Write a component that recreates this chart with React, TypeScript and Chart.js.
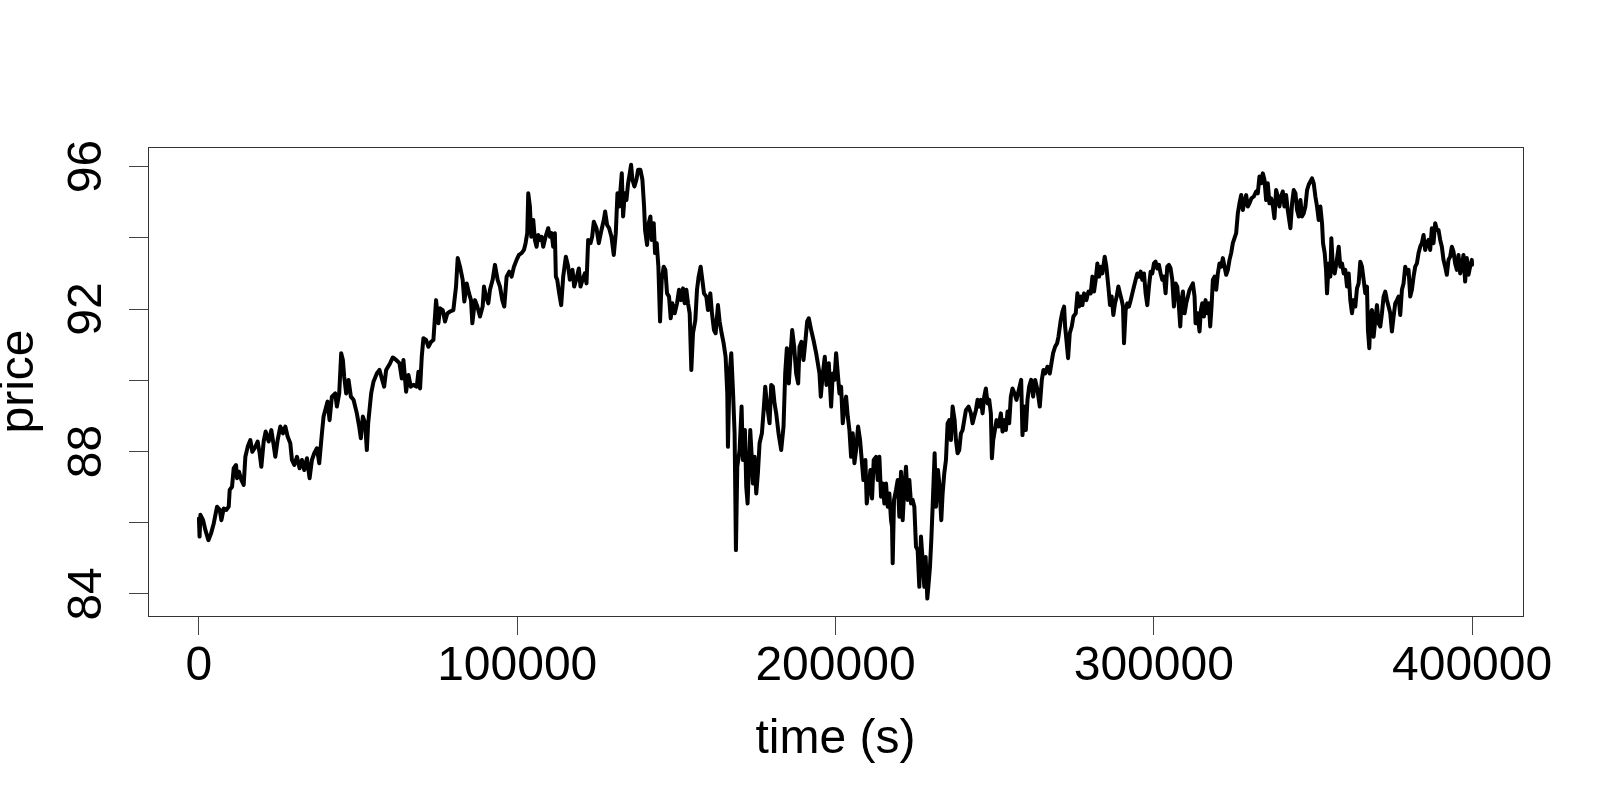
import { useEffect, useRef } from "react";
import { Chart, registerables } from "chart.js";

Chart.register(...registerables);

// time (s)
const times: number[] = [
  0, 200, 470, 1307, 2039, 2980, 3817, 4653, 5699, 6536,
  7058, 7790, 8627, 9359, 9672, 10404, 10927, 11659, 11973, 12600,
  13332, 14064, 14587, 15319, 16156, 16783, 17724, 18456, 19084, 19606,
  20338, 20966, 21907, 22743, 23475, 23998, 24730, 25567, 26403, 27135,
  27867, 28704, 29227, 29958, 30795, 31631, 32363, 33095, 33932, 34768,
  35500, 36232, 37069, 37801, 38637, 39160, 39997, 40415, 41042, 41774,
  42820, 43343, 44075, 44702, 45225, 45643, 46271, 47003, 47735, 48571,
  49617, 50349, 50872, 51499, 52231, 52754, 53172, 53800,
  54113, 54845, 55891, 56727, 57459, 58191, 58819, 60074, 60910, 61956,
  63002, 63733, 64256, 65093, 65825, 66557, 67393, 68439, 68962, 69485,
  70007, 70530, 71367, 72099, 72935, 73667, 74504, 75236, 75759, 76595,
  77327, 78059, 78896, 79942, 80778, 81301, 82033, 82869, 83392, 84124,
  84856, 85483, 85902, 86738, 87470, 88307, 89143, 89561, 90189, 90921,
  91444, 92280, 93012, 93848, 94581, 95313, 95940, 96672, 97509, 98240,
  98972, 99809, 100541, 101377, 102109, 102632, 103154, 103468, 103991, 104409,
  105036, 105559, 106082, 106605, 107128, 107651, 108173, 108905, 109742, 110265,
  110787, 111310, 111833, 112147, 112565, 113193, 113820, 114448, 115284, 116016,
  116539, 117375, 117898, 118630, 119363, 119885, 120513, 121245, 121768, 122291,
  123023, 123545, 124068, 124905, 125637,
  126474, 127205, 127624, 128251, 128879, 129611, 130343, 130970, 131493, 132016,
  132434, 132852, 133271, 133793, 134316, 134839, 135362, 135780, 136199, 136826,
  137453, 137976, 138708, 139336, 139858, 140172, 140800, 141322, 141845, 142263,
  142890, 143309, 143831, 144354, 144877, 145400, 146027, 146550, 147073, 147701,
  148223, 148746, 149478, 150210, 150837, 151465, 152092, 152615, 153138, 153661,
  154184, 154706, 155229, 155961, 156484, 157007, 157634, 158157, 158680, 159412,
  159935, 160667, 161190, 161817, 162340, 163072, 163595, 164222, 164850, 165477,
  166000, 166209, 166732, 167255, 167778, 168300, 168719, 169137, 169869, 170496,
  170915, 171542, 171961, 172379, 172797, 173216, 173739, 174052, 174575, 175098,
  175621, 176143, 176875, 177503, 177921, 178444, 179280, 179803, 180326, 180849,
  181372, 182103, 182940, 183672, 184195, 184718, 185345, 185973, 186391, 187018,
  187646, 188273, 188691, 189319, 189946, 190574, 191097, 191619, 192351, 193083,
  193920, 194443, 194966, 195384, 196011, 196639, 197162, 197894,
  198625, 199148, 199670, 200193, 200716, 201239, 201762, 202285, 202807, 203330,
  203853, 204376, 204899, 205421, 205944, 206467, 207095, 207722, 208245, 208767,
  209395, 209813, 210441, 210963, 211486, 212009, 212741, 213264, 213787, 214310,
  214832, 215355, 215878, 216401, 216924, 217446, 217760, 217969, 218388, 219015,
  219538, 220061, 220584, 221106, 221629, 222152, 222675, 223198, 223721, 224243,
  224766, 225289, 225812, 226335, 226857, 227380, 227903, 228321, 228844, 229263,
  229681, 230099, 230518, 231145, 231564, 232191, 232609, 233237, 233655, 234178,
  234701, 235224, 235746, 236269, 236792, 237420, 237838, 238361, 238883, 239406,
  239929, 240452, 240975, 241811, 242543, 243066, 243589, 244112, 244634, 245157,
  245680, 246203, 246725, 247248, 247771, 248294, 248817, 249131, 249548, 250072,
  250594, 251222, 251954, 252477, 253104, 253522, 254045, 254568, 255091, 255614,
  256241, 256868, 257705, 258332, 258751, 259273, 259796, 260319, 260842, 261469,
  262096, 262724, 263456, 264188, 264815, 265338, 265861, 266593, 267325, 267848,
  268370, 268998, 269625, 270044,
  270775, 271298, 271821, 272135, 272553, 273076, 273599, 274226, 274749, 275481,
  276004, 276527, 277050, 277572, 278095, 278827, 279455, 280187, 280710, 281232,
  281755, 282278, 282801, 283324, 283846, 284578, 285101, 285728, 286251, 286774,
  287297, 287820, 288342, 288865, 289388, 289911, 290329, 290643, 291166, 291688,
  292211, 292734, 293257, 293780, 294302, 294825, 295348, 295871, 296394, 296916,
  297439, 297962, 298485, 299008, 299530, 300053, 300576, 301099, 301622, 302144,
  302667, 303190, 303713, 304236, 304759, 305281, 305804, 306327, 306850, 307373,
  307895, 308314, 308732, 309150, 309673, 310196, 310719, 311242, 311765, 312288,
  312810, 313124, 313752, 314379, 314798, 315216, 315739, 316262, 316785, 317308,
  317726, 318144, 318562, 319085, 319608, 320131, 320654, 321177, 321699, 322222,
  322745, 323268, 323791, 324313, 324836, 325359, 325882, 326405, 326928, 327450,
  327973, 328496, 329019, 329542, 330064, 330692, 331424, 332156, 332679, 333202,
  333724, 334247, 334770, 335293, 335816, 336339, 336861, 337384, 337907, 338430,
  338953, 339476, 339998, 340521, 341044, 341567, 342090,
  342927, 343450, 343972, 344495, 345018, 345541, 346064, 346586, 347109, 347632,
  348155, 348678, 349201, 349723, 350246, 350769, 351292, 351815, 352337, 352860,
  353174, 353697, 354115, 354429, 354952, 355474, 355788, 356311, 356834, 357357,
  358089, 358612, 359134, 359657, 360180, 360703, 361226, 361748, 362271, 362794,
  363317, 363840, 364363, 364885, 365408, 365931, 366454, 366977, 367290, 367709,
  368127, 368545, 369068, 369591, 370114, 370637, 371160, 371682, 372205, 372728,
  373251, 373774, 374297, 374819, 375342, 375865, 376388, 376911, 377433, 377956,
  378479, 379002, 379525, 380048, 380570, 381093, 381616, 382139, 382662, 383185,
  383707, 384230, 384753, 385276, 385799, 386322, 386844, 387367, 387890, 388413,
  388936, 389459, 389981, 390504, 391027, 391550, 392073, 392596, 393118, 393641,
  394164, 394687, 395210, 395733, 396255, 396778, 397301, 397824, 398347, 398870,
  399392, 399915, 400000,
];

// price
const prices: number[] = [
  86.12, 85.61, 86.22, 86.07, 85.79, 85.51, 85.70, 85.98, 86.45, 86.36,
  86.07, 86.40, 86.36, 86.45, 86.92, 87.01, 87.53, 87.62, 87.25, 87.43,
  87.20, 87.06, 87.85, 88.13, 88.32, 87.99, 88.13, 88.28, 87.95, 87.57,
  88.28, 88.56, 88.28, 88.60, 88.18, 87.85, 88.32, 88.70, 88.51, 88.70,
  88.42, 88.23, 87.76, 87.62, 87.85, 87.53, 87.76, 87.48, 87.81, 87.25,
  87.76, 87.95, 88.09, 87.67, 88.51, 88.98, 89.26, 89.40, 88.88, 89.54,
  89.63, 89.26, 89.63, 90.76, 90.57, 90.10, 89.63, 90.01, 89.54, 89.45,
  89.07, 88.70, 88.37, 88.98, 88.79, 88.04, 88.79, 89.35,
  89.63, 89.96, 90.19, 90.29, 90.05, 89.82, 90.29, 90.48, 90.64, 90.57,
  90.48, 90.05, 90.57, 89.68, 90.15, 89.82, 89.87, 89.82, 90.24, 89.77,
  90.66, 91.18, 91.13, 90.94, 91.08, 91.13, 92.25, 91.60, 92.02, 91.97,
  91.65, 91.88, 91.93, 91.97, 92.63, 93.43, 93.19, 92.82, 92.21, 92.72,
  92.44, 92.25, 91.60, 92.25, 92.07, 91.79, 92.07, 92.63, 92.35, 92.16,
  92.54, 92.82, 93.24, 92.82, 92.63, 92.25, 92.07, 92.91, 93.05, 92.91,
  93.19, 93.38, 93.52, 93.57, 93.66, 93.85, 94.13, 95.25, 94.88, 94.03,
  94.50, 93.94, 93.75, 94.08, 93.94, 94.03, 93.75, 94.03, 94.27, 94.03,
  94.13, 93.75, 94.13, 92.91, 92.82, 92.44, 92.11, 92.91, 93.47, 93.19,
  92.82, 93.10, 92.63, 92.86, 93.14, 92.63, 92.82, 93.00, 92.72, 93.94,
  93.85, 94.03, 94.45, 94.27, 93.85,
  94.22, 94.50, 94.74, 94.36, 94.27, 94.03, 93.52, 94.13, 95.25, 94.88,
  95.34, 95.81, 94.60, 95.25, 95.06, 95.53, 95.81, 96.05, 95.63, 95.44,
  95.63, 95.91, 95.91, 95.63, 94.88, 94.22, 93.80, 94.41, 94.60, 93.94,
  94.41, 93.57, 93.85, 93.19, 91.65, 92.82, 93.19, 93.10, 92.44, 92.35,
  91.74, 92.16, 91.88, 92.16, 92.54, 92.25, 92.58, 92.16, 92.54, 92.16,
  91.88, 90.29, 91.32, 91.69, 92.54, 92.91, 93.19, 92.82, 92.44, 92.35,
  91.97, 92.44, 91.88, 91.41, 91.32, 92.11, 91.65, 91.32, 91.04, 90.66,
  89.63, 88.13, 90.19, 90.76, 89.73, 88.51, 85.23, 87.57, 88.04, 89.26,
  87.76, 88.60, 87.01, 86.54, 87.57, 88.60, 87.76, 87.10, 87.85, 86.82,
  87.39, 88.23, 88.51, 89.26, 89.82, 89.35, 88.79, 89.87, 89.82, 89.35,
  89.07, 88.51, 88.04, 88.70, 90.19, 90.90, 89.91, 90.85, 91.41, 90.94,
  90.19, 89.91, 90.94, 91.08, 90.57, 91.13, 91.65, 91.74, 91.41, 91.13,
  90.76, 90.48, 90.19, 89.54, 90.19, 90.66, 89.87, 90.48,
  89.26, 90.19, 90.01, 90.76, 90.19, 89.63, 89.82, 88.79, 89.26, 89.54,
  88.98, 88.60, 87.85, 88.51, 87.67, 88.04, 88.70, 88.32, 87.76, 87.20,
  87.76, 86.54, 87.01, 87.48, 86.68, 87.76, 87.85, 87.20, 87.85, 86.73,
  87.10, 86.54, 87.10, 86.45, 86.82, 86.07, 85.89, 84.86, 86.64, 86.92,
  87.20, 86.17, 87.43, 86.07, 87.01, 87.57, 86.64, 87.20, 86.54, 86.64,
  86.45, 85.33, 85.23, 84.20, 85.61, 84.95, 84.20, 85.04, 83.87, 84.30,
  84.76, 85.51, 86.45, 87.95, 86.45, 87.48, 87.10, 86.07, 86.82, 87.39,
  87.76, 88.79, 88.88, 88.32, 89.26, 88.88, 88.32, 87.95, 88.04, 88.51,
  88.60, 88.88, 89.16, 89.26, 89.07, 88.79, 88.98, 89.16, 89.45, 89.26,
  89.45, 89.07, 89.54, 89.77, 89.35, 89.45, 89.07, 87.81, 88.32, 88.60,
  88.88, 88.70, 89.07, 88.56, 88.88, 88.60, 89.12, 88.79, 89.54, 89.77,
  89.63, 89.45, 89.77, 90.01, 88.46, 89.26, 88.60, 89.45, 89.82, 90.01,
  89.54, 90.01, 89.73, 89.26, 90.01, 90.29, 90.19, 90.38, 90.19, 90.48,
  90.76, 90.94, 91.04, 91.22,
  91.69, 91.93, 92.07, 91.51, 91.13, 90.62, 91.32, 91.51, 91.79, 91.88,
  92.44, 92.07, 92.35, 92.11, 92.44, 92.25, 92.49, 92.44, 92.91, 92.49,
  92.82, 93.28, 92.91, 93.19, 93.00, 93.47, 93.19, 92.63, 92.11, 92.35,
  91.83, 92.16, 92.35, 92.63, 92.44, 92.25, 92.07, 91.04, 91.97, 92.16,
  92.07, 92.25, 92.44, 92.63, 92.82, 93.00, 92.91, 93.05, 92.82, 93.00,
  92.44, 92.11, 92.63, 93.05, 93.00, 93.28, 93.33, 93.14, 93.24, 93.00,
  92.82, 92.91, 92.44, 93.19, 93.24, 93.14, 92.82, 92.07, 92.72, 92.63,
  92.07, 91.51, 92.25, 92.49, 91.88, 92.16, 92.35, 92.54, 92.63, 92.72,
  92.35, 91.60, 91.88, 91.37, 91.97, 92.16, 91.79, 92.25, 91.88, 92.16,
  91.51, 92.07, 92.82, 92.91, 92.54, 93.00, 93.28, 93.19, 93.43, 93.19,
  92.96, 93.10, 93.38, 93.57, 93.85, 93.99, 94.13, 94.69, 94.97, 95.20,
  94.78, 95.02, 95.20, 94.88, 94.97, 95.11, 95.16, 95.30, 95.25, 95.72,
  95.53, 95.81, 95.63, 95.06, 95.53, 94.97, 95.11, 94.92, 94.55, 95.34,
  95.16, 94.88, 95.16, 95.30, 94.88, 95.20, 94.78,
  94.27, 94.97, 95.34, 95.25, 94.78, 94.60, 95.06, 94.60, 94.69, 94.88,
  95.34, 95.49, 95.58, 95.67, 95.53, 95.16, 94.88, 94.50, 94.88, 94.41,
  93.85, 93.57, 93.10, 92.44, 93.28, 92.91, 93.99, 93.10, 93.00, 93.28,
  93.75, 93.19, 93.28, 93.00, 93.10, 92.63, 93.00, 92.25, 91.88, 92.25,
  92.07, 92.58, 92.72, 93.33, 93.19, 92.82, 92.44, 92.63, 91.41, 90.90,
  91.88, 91.97, 91.22, 91.69, 92.11, 91.60, 91.51, 91.88, 92.35, 92.49,
  92.25, 92.07, 91.88, 91.37, 91.79, 92.16, 92.25, 92.35, 91.83, 92.54,
  92.72, 93.19, 93.00, 93.10, 92.35, 92.54, 92.91, 93.19, 93.28, 93.57,
  93.75, 93.85, 94.08, 93.66, 93.85, 93.94, 93.66, 94.27, 93.85, 94.41,
  94.22, 94.22, 93.94, 93.75, 93.38, 93.19, 92.96, 93.38, 93.47, 93.75,
  93.61, 93.28, 93.10, 93.52, 93.00, 93.19, 93.52, 92.77, 93.43, 92.96,
  93.19, 93.38, 93.24,
];

const xTicks: number[] = [0, 100000, 200000, 300000, 400000];
const yTicks: number[] = [84, 86, 88, 90, 92, 94, 96];
const yLabelTicks: number[] = [84, 88, 92, 96];
const xTitle = "time (s)";
const yTitle = "price";

const FONT = '"Liberation Sans", Arial, Helvetica, sans-serif';

export default function App() {
  const canvasRef = useRef<HTMLCanvasElement | null>(null);

  useEffect(() => {
    const canvas = canvasRef.current;
    if (!canvas) return;
    const n = Math.min(times.length, prices.length);
    const points = [];
    for (let i = 0; i < n; i++) points.push({ x: times[i], y: prices[i] });

    const framePlugin = {
      id: "rframe",
      afterDraw(chart: any) {
        const { ctx, chartArea: a, scales } = chart;
        ctx.save();
        ctx.strokeStyle = "#333";
        ctx.lineWidth = 1;
        ctx.strokeRect(
          Math.round(a.left) + 0.5,
          Math.round(a.top) + 0.5,
          Math.round(a.right - a.left),
          Math.round(a.bottom - a.top)
        );
        ctx.fillStyle = "#000";
        ctx.font = `48px ${FONT}`;
        ctx.textAlign = "center";
        ctx.textBaseline = "alphabetic";
        for (const v of xTicks) {
          ctx.fillText(String(v), scales.x.getPixelForValue(v), a.bottom + 64);
        }
        ctx.fillText(xTitle, (a.left + a.right) / 2, a.bottom + 137);
        for (const v of yLabelTicks) {
          ctx.save();
          ctx.translate(a.left - 47, scales.y.getPixelForValue(v));
          ctx.rotate(-Math.PI / 2);
          ctx.fillText(String(v), 0, 0);
          ctx.restore();
        }
        ctx.save();
        ctx.translate(a.left - 115, (a.top + a.bottom) / 2);
        ctx.rotate(-Math.PI / 2);
        ctx.fillText(yTitle, 0, 0);
        ctx.restore();
        ctx.restore();
      },
    };

    const chart = new Chart(canvas, {
      type: "line",
      data: {
        datasets: [
          {
            data: points,
            borderColor: "#000",
            borderWidth: 4,
            pointRadius: 0,
            tension: 0,
            borderJoinStyle: "round",
            borderCapStyle: "round",
            fill: false,
          },
        ],
      },
      options: {
        responsive: false,
        animation: false,
        devicePixelRatio: 1,
        layout: { padding: { top: 147, right: 77, left: 0, bottom: 0 } },
        plugins: {
          legend: { display: false },
          tooltip: { enabled: false },
          title: { display: false },
        },
        scales: {
          x: {
            type: "linear",
            min: -16000,
            max: 416000,
            afterBuildTicks: (s: any) => {
              s.ticks = xTicks.map((v) => ({ value: v }));
            },
            afterFit: (s: any) => {
              s.height = 184;
            },
            ticks: { display: false },
            border: { display: false },
            grid: {
              drawOnChartArea: false,
              drawTicks: true,
              tickLength: 19,
              color: "#444",
              lineWidth: 1,
            },
          },
          y: {
            type: "linear",
            min: 83.38,
            max: 96.55,
            afterBuildTicks: (s: any) => {
              s.ticks = yTicks.map((v) => ({ value: v }));
            },
            afterFit: (s: any) => {
              s.width = 148;
            },
            ticks: { display: false },
            border: { display: false },
            grid: {
              drawOnChartArea: false,
              drawTicks: true,
              tickLength: 19,
              color: "#444",
              lineWidth: 1,
            },
          },
        },
      },
      plugins: [framePlugin],
    } as any);

    return () => chart.destroy();
  }, []);

  return (
    <div
      style={{
        position: "absolute",
        left: 0,
        top: 0,
        width: 1600,
        height: 800,
        background: "#fff",
      }}
    >
      <canvas ref={canvasRef} width={1600} height={800} />
    </div>
  );
}
